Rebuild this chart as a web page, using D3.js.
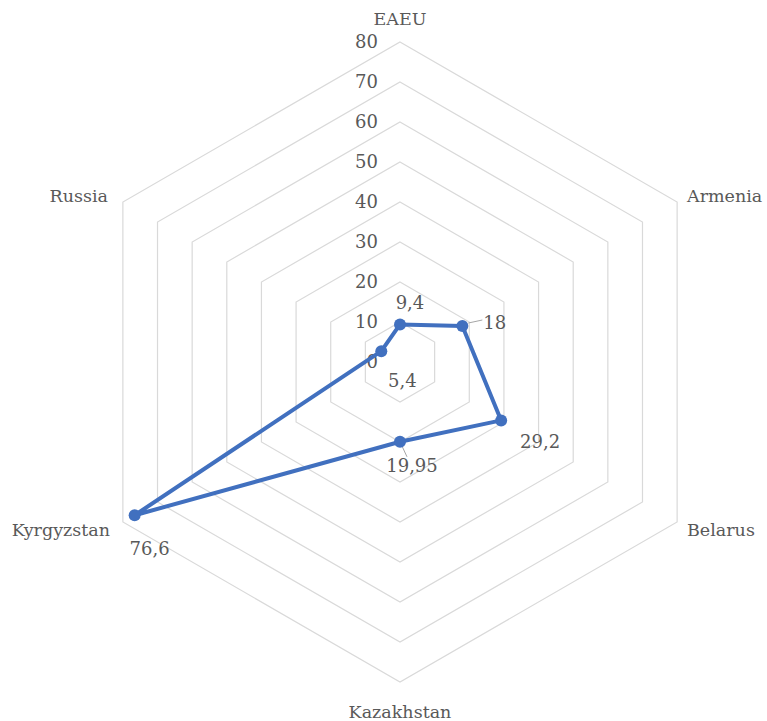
<!DOCTYPE html>
<html>
<head>
<meta charset="utf-8">
<script src="https://cdn.jsdelivr.net/npm/d3@7"></script>
<style>
  html, body { margin: 0; padding: 0; background: #fff; }
  svg { display: block; }
  text { font-family: "DejaVu Serif", "Liberation Serif", serif; fill: #595959; }
</style>
</head>
<body>
<script>
// Radar chart: one series over six EAEU members/aggregate
const categories = ["EAEU", "Armenia", "Belarus", "Kazakhstan", "Kyrgyzstan", "Russia"];
const values = [9.4, 18, 29.2, 19.95, 76.6, 5.4];
const valueLabels = ["9,4", "18", "29,2", "19,95", "76,6", "5,4"];
const ticks = [0, 10, 20, 30, 40, 50, 60, 70, 80];

// label placement around each point: [dx, dy, anchor]
const labelOffsets = [[10, -22, "middle"], [21, -3, "start"], [39, 21, "middle"], [12, 24, "middle"], [15, 33, "middle"], [21, 29, "middle"]];

const W = 767, H = 721;
const cx = 400, cy = 362;

const svg = d3.select("body").append("svg").attr("width", W).attr("height", H);

const r = d3.scaleLinear().domain([0, 80]).range([0, 320]);
const angle = d3.scalePoint().domain(categories).range([0, 2 * Math.PI * (categories.length - 1) / categories.length]);

const px = (c, v) => cx + r(v) * Math.sin(angle(c));
const py = (c, v) => cy - r(v) * Math.cos(angle(c));

// grid rings
const ring = d3.line().x(d => d[0]).y(d => d[1]).curve(d3.curveLinearClosed);
svg.append("g").selectAll("path")
  .data(ticks.filter(t => t > 0))
  .join("path")
  .attr("d", t => ring(categories.map(c => [px(c, t), py(c, t)])))
  .attr("fill", "none")
  .attr("stroke", "#d9d9d9")
  .attr("stroke-width", 1.2);

// value axis labels
svg.append("g").selectAll("text")
  .data(ticks)
  .join("text")
  .attr("x", cx - 22)
  .attr("y", t => cy - r(t))
  .attr("dy", "0.35em")
  .attr("text-anchor", "end")
  .style("font-size", "18px")
  .text(t => t);

// category labels
const catPos = {
  "EAEU": [0, -343, "middle"],
  "Armenia": [287, -166, "start"],
  "Belarus": [287, 168, "start"],
  "Kazakhstan": [0, 350, "middle"],
  "Kyrgyzstan": [-290, 168, "end"],
  "Russia": [-292, -166, "end"]
};
svg.append("g").selectAll("text")
  .data(categories)
  .join("text")
  .attr("x", c => cx + catPos[c][0])
  .attr("y", c => cy + catPos[c][1])
  .attr("dy", "0.35em")
  .attr("text-anchor", c => catPos[c][2])
  .style("font-size", "17.5px")
  .text(c => c);

const pts = categories.map((c, i) => ({ c, v: values[i], x: px(c, values[i]), y: py(c, values[i]), lab: valueLabels[i], off: labelOffsets[i] }));

// leader lines for two labels
svg.append("line")
  .attr("x1", pts[1].x + 6).attr("y1", pts[1].y - 3)
  .attr("x2", pts[1].x + 20).attr("y2", pts[1].y - 6)
  .attr("stroke", "#a6a6a6").attr("stroke-width", 1);
svg.append("line")
  .attr("x1", pts[3].x).attr("y1", pts[3].y)
  .attr("x2", pts[3].x + 7).attr("y2", pts[3].y + 15)
  .attr("stroke", "#a6a6a6").attr("stroke-width", 1);

// series outline
svg.append("path")
  .attr("d", ring(pts.map(p => [p.x, p.y])))
  .attr("fill", "none")
  .attr("stroke", "#4170bf")
  .attr("stroke-width", 4)
  .attr("stroke-linejoin", "round");

svg.append("g").selectAll("circle")
  .data(pts)
  .join("circle")
  .attr("cx", p => p.x)
  .attr("cy", p => p.y)
  .attr("r", 6)
  .attr("fill", "#4170bf");

// data labels
svg.append("g").selectAll("text")
  .data(pts)
  .join("text")
  .attr("x", p => p.x + p.off[0])
  .attr("y", p => p.y + p.off[1])
  .attr("dy", "0.35em")
  .attr("text-anchor", p => p.off[2])
  .style("font-size", "18px")
  .text(p => p.lab);
</script>
</body>
</html>
